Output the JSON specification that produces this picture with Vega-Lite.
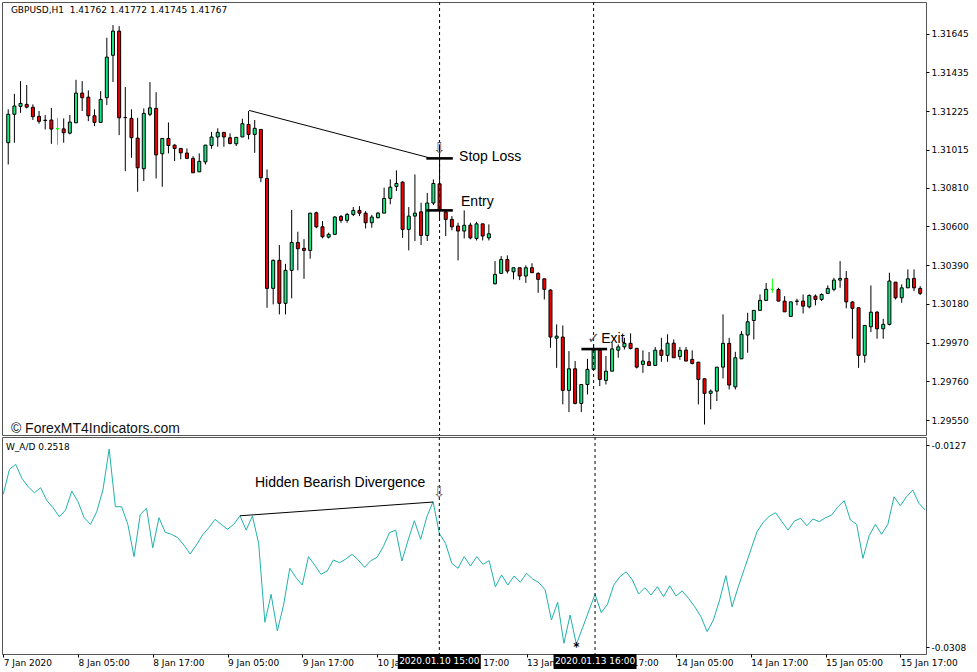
{
  "$schema": "https://vega.github.io/schema/vega-lite/v6.json",
  "background": "#ffffff",
  "padding": {"left": 1, "top": 1, "right": 0, "bottom": 0},
  "spacing": 2,
  "bounds": "flush",
  "config": {
    "view": {"stroke": "#555555", "strokeWidth": 1},
    "axis": {"labelFont": "DejaVu Sans", "labelFontSize": 9, "labelColor": "#000000", "tickColor": "#000000", "domain": false, "grid": false, "tickSize": 3, "labelPadding": 2, "title": null}
  },
  "datasets": {
    "bars": [
      {"i":0,"o":1.31054,"h":1.31235,"l":1.30936,"c":1.31208,"w":-0.01711},
      {"i":1,"o":1.31208,"h":1.31319,"l":1.31054,"c":1.31253,"w":-0.01487},
      {"i":2,"o":1.31251,"h":1.31388,"l":1.31216,"c":1.31267,"w":-0.01443},
      {"i":3,"o":1.31262,"h":1.31367,"l":1.3124,"c":1.31247,"w":-0.01568},
      {"i":4,"o":1.31246,"h":1.31262,"l":1.31177,"c":1.31195,"w":-0.01643},
      {"i":5,"o":1.31197,"h":1.31226,"l":1.31157,"c":1.3117,"w":-0.01697},
      {"i":6,"o":1.31176,"h":1.31204,"l":1.31126,"c":1.31174,"w":-0.01652},
      {"i":7,"o":1.31177,"h":1.31243,"l":1.31048,"c":1.31128,"w":-0.01768},
      {"i":8,"o":1.3113,"h":1.31189,"l":1.31043,"c":1.3113,"w":-0.01831},
      {"i":9,"o":1.31129,"h":1.31186,"l":1.31054,"c":1.31108,"w":-0.01912},
      {"i":10,"o":1.31106,"h":1.31204,"l":1.31099,"c":1.31166,"w":-0.01852},
      {"i":11,"o":1.31162,"h":1.31395,"l":1.31162,"c":1.31323,"w":-0.01682},
      {"i":12,"o":1.31323,"h":1.31388,"l":1.31226,"c":1.31298,"w":-0.01777},
      {"i":13,"o":1.31301,"h":1.31338,"l":1.31171,"c":1.312,"w":-0.0192},
      {"i":14,"o":1.312,"h":1.31235,"l":1.31144,"c":1.31164,"w":-0.0198},
      {"i":15,"o":1.31164,"h":1.31334,"l":1.31164,"c":1.31289,"w":-0.01867},
      {"i":16,"o":1.31298,"h":1.31623,"l":1.31258,"c":1.31518,"w":-0.01673},
      {"i":17,"o":1.31528,"h":1.31692,"l":1.31383,"c":1.31659,"w":-0.01306},
      {"i":18,"o":1.31659,"h":1.31686,"l":1.31095,"c":1.31189,"w":-0.01822},
      {"i":19,"o":1.31191,"h":1.31356,"l":1.309,"c":1.3119,"w":-0.01822},
      {"i":20,"o":1.31186,"h":1.31235,"l":1.30972,"c":1.31081,"w":-0.0198},
      {"i":21,"o":1.31079,"h":1.31189,"l":1.30788,"c":1.30918,"w":-0.02269},
      {"i":22,"o":1.30913,"h":1.3124,"l":1.30846,"c":1.31213,"w":-0.0189},
      {"i":23,"o":1.31208,"h":1.31383,"l":1.31198,"c":1.31243,"w":-0.01836},
      {"i":24,"o":1.3124,"h":1.31328,"l":1.3086,"c":1.30988,"w":-0.02189},
      {"i":25,"o":1.30994,"h":1.31077,"l":1.30815,"c":1.31077,"w":-0.0192},
      {"i":26,"o":1.31077,"h":1.31164,"l":1.30996,"c":1.31039,"w":-0.02051},
      {"i":27,"o":1.31041,"h":1.31045,"l":1.30954,"c":1.31023,"w":-0.02069},
      {"i":28,"o":1.31023,"h":1.31023,"l":1.30964,"c":1.30999,"w":-0.02099},
      {"i":29,"o":1.30998,"h":1.31023,"l":1.30965,"c":1.30969,"w":-0.02165},
      {"i":30,"o":1.30969,"h":1.30981,"l":1.30891,"c":1.30891,"w":-0.02245},
      {"i":31,"o":1.30896,"h":1.30996,"l":1.30896,"c":1.30953,"w":-0.02165},
      {"i":32,"o":1.3095,"h":1.31041,"l":1.30936,"c":1.31041,"w":-0.02075},
      {"i":33,"o":1.31039,"h":1.31113,"l":1.31021,"c":1.31085,"w":-0.0201},
      {"i":34,"o":1.31085,"h":1.31132,"l":1.31032,"c":1.3111,"w":-0.01935},
      {"i":35,"o":1.3111,"h":1.3111,"l":1.31032,"c":1.31085,"w":-0.0198},
      {"i":36,"o":1.31081,"h":1.31105,"l":1.31045,"c":1.3105,"w":-0.02024},
      {"i":37,"o":1.31048,"h":1.31083,"l":1.31036,"c":1.31083,"w":-0.0198},
      {"i":38,"o":1.31085,"h":1.31184,"l":1.31085,"c":1.31157,"w":-0.01903},
      {"i":39,"o":1.31153,"h":1.31226,"l":1.31072,"c":1.31099,"w":-0.02031},
      {"i":40,"o":1.31099,"h":1.31177,"l":1.30999,"c":1.31132,"w":-0.01905},
      {"i":41,"o":1.31126,"h":1.31126,"l":1.3084,"c":1.30864,"w":-0.0215},
      {"i":42,"o":1.3086,"h":1.30909,"l":1.30159,"c":1.30264,"w":-0.02856},
      {"i":43,"o":1.30264,"h":1.30421,"l":1.30177,"c":1.30416,"w":-0.02606},
      {"i":44,"o":1.30416,"h":1.30499,"l":1.30123,"c":1.30183,"w":-0.02934},
      {"i":45,"o":1.30183,"h":1.30397,"l":1.30123,"c":1.30362,"w":-0.02702},
      {"i":46,"o":1.30362,"h":1.30689,"l":1.3021,"c":1.30513,"w":-0.02373},
      {"i":47,"o":1.30513,"h":1.30571,"l":1.30362,"c":1.30479,"w":-0.02457},
      {"i":48,"o":1.30481,"h":1.30531,"l":1.30316,"c":1.3047,"w":-0.02523},
      {"i":49,"o":1.3047,"h":1.30672,"l":1.30425,"c":1.30672,"w":-0.02269},
      {"i":50,"o":1.30674,"h":1.3068,"l":1.3059,"c":1.30598,"w":-0.02344},
      {"i":51,"o":1.30598,"h":1.30629,"l":1.30535,"c":1.30544,"w":-0.02427},
      {"i":52,"o":1.30542,"h":1.30566,"l":1.30535,"c":1.30557,"w":-0.02397},
      {"i":53,"o":1.30557,"h":1.30656,"l":1.30557,"c":1.30651,"w":-0.02299},
      {"i":54,"o":1.30654,"h":1.30662,"l":1.3062,"c":1.30633,"w":-0.02323},
      {"i":55,"o":1.30633,"h":1.30674,"l":1.3062,"c":1.30665,"w":-0.0229},
      {"i":56,"o":1.30665,"h":1.30705,"l":1.30656,"c":1.30687,"w":-0.02248},
      {"i":57,"o":1.30687,"h":1.3071,"l":1.30656,"c":1.30672,"w":-0.02299},
      {"i":58,"o":1.30672,"h":1.30683,"l":1.30589,"c":1.3062,"w":-0.02364},
      {"i":59,"o":1.3062,"h":1.30662,"l":1.30593,"c":1.30651,"w":-0.02305},
      {"i":60,"o":1.30647,"h":1.30678,"l":1.30644,"c":1.30672,"w":-0.02275},
      {"i":61,"o":1.30672,"h":1.3081,"l":1.30672,"c":1.30752,"w":-0.0218},
      {"i":62,"o":1.30752,"h":1.30855,"l":1.3072,"c":1.30813,"w":-0.02055},
      {"i":63,"o":1.30817,"h":1.30904,"l":1.30792,"c":1.30833,"w":-0.02031},
      {"i":64,"o":1.3084,"h":1.30845,"l":1.30538,"c":1.30584,"w":-0.02308},
      {"i":65,"o":1.30584,"h":1.30705,"l":1.3047,"c":1.30656,"w":-0.0212},
      {"i":66,"o":1.30656,"h":1.30882,"l":1.30521,"c":1.30672,"w":-0.01947},
      {"i":67,"o":1.30679,"h":1.30728,"l":1.30499,"c":1.30551,"w":-0.02114},
      {"i":68,"o":1.30551,"h":1.30782,"l":1.30521,"c":1.30727,"w":-0.01912},
      {"i":69,"o":1.30727,"h":1.30855,"l":1.30716,"c":1.30833,"w":-0.01777},
      {"i":70,"o":1.30831,"h":1.31045,"l":1.30638,"c":1.30687,"w":-0.0206},
      {"i":71,"o":1.30679,"h":1.30687,"l":1.30548,"c":1.30638,"w":-0.0215},
      {"i":72,"o":1.30638,"h":1.30656,"l":1.30579,"c":1.30598,"w":-0.02328},
      {"i":73,"o":1.30602,"h":1.3062,"l":1.30416,"c":1.30575,"w":-0.02373},
      {"i":74,"o":1.30575,"h":1.30687,"l":1.30535,"c":1.30606,"w":-0.02269},
      {"i":75,"o":1.30607,"h":1.3062,"l":1.3053,"c":1.30538,"w":-0.02353},
      {"i":76,"o":1.30535,"h":1.30625,"l":1.30524,"c":1.30614,"w":-0.02269},
      {"i":77,"o":1.30614,"h":1.30614,"l":1.30524,"c":1.30548,"w":-0.02337},
      {"i":78,"o":1.30538,"h":1.30611,"l":1.30524,"c":1.3056,"w":-0.02305},
      {"i":79,"o":1.30289,"h":1.30412,"l":1.30286,"c":1.3034,"w":-0.02538},
      {"i":80,"o":1.30345,"h":1.30439,"l":1.30345,"c":1.30421,"w":-0.02433},
      {"i":81,"o":1.30421,"h":1.30443,"l":1.30345,"c":1.30358,"w":-0.02523},
      {"i":82,"o":1.30354,"h":1.30376,"l":1.30313,"c":1.30376,"w":-0.02442},
      {"i":83,"o":1.30376,"h":1.30376,"l":1.30309,"c":1.30331,"w":-0.02498},
      {"i":84,"o":1.30331,"h":1.30389,"l":1.30294,"c":1.30376,"w":-0.02418},
      {"i":85,"o":1.30376,"h":1.304,"l":1.30349,"c":1.30349,"w":-0.02469},
      {"i":86,"o":1.30345,"h":1.30352,"l":1.3024,"c":1.30313,"w":-0.02502},
      {"i":87,"o":1.30316,"h":1.30316,"l":1.30204,"c":1.30259,"w":-0.02567},
      {"i":88,"o":1.30255,"h":1.30259,"l":1.29942,"c":1.3,"w":-0.02836},
      {"i":89,"o":1.29994,"h":1.30069,"l":1.29833,"c":1.30005,"w":-0.02677},
      {"i":90,"o":1.3,"h":1.30063,"l":1.29635,"c":1.29711,"w":-0.03044},
      {"i":91,"o":1.29711,"h":1.29924,"l":1.29593,"c":1.29828,"w":-0.02791},
      {"i":92,"o":1.29828,"h":1.2987,"l":1.29635,"c":1.2964,"w":-0.03053},
      {"i":93,"o":1.2964,"h":1.29743,"l":1.29593,"c":1.29743,"w":-0.02905},
      {"i":94,"o":1.29743,"h":1.29882,"l":1.29689,"c":1.29825,"w":-0.02755},
      {"i":95,"o":1.29825,"h":1.2996,"l":1.29825,"c":1.29929,"w":-0.02606},
      {"i":96,"o":1.29929,"h":1.29929,"l":1.29734,"c":1.2977,"w":-0.0277},
      {"i":97,"o":1.29765,"h":1.29897,"l":1.29743,"c":1.29815,"w":-0.02695},
      {"i":98,"o":1.29815,"h":1.29969,"l":1.29815,"c":1.29936,"w":-0.02523},
      {"i":99,"o":1.29929,"h":1.2996,"l":1.29888,"c":1.29947,"w":-0.02448},
      {"i":100,"o":1.29947,"h":1.29996,"l":1.29933,"c":1.29966,"w":-0.02404},
      {"i":101,"o":1.29966,"h":1.3002,"l":1.29933,"c":1.29938,"w":-0.02478},
      {"i":102,"o":1.29939,"h":1.29939,"l":1.2983,"c":1.29837,"w":-0.02603},
      {"i":103,"o":1.29852,"h":1.29928,"l":1.29806,"c":1.2987,"w":-0.02547},
      {"i":104,"o":1.29866,"h":1.29919,"l":1.29846,"c":1.29846,"w":-0.02612},
      {"i":105,"o":1.29846,"h":1.29946,"l":1.29846,"c":1.29929,"w":-0.02538},
      {"i":106,"o":1.29929,"h":1.29996,"l":1.29866,"c":1.29901,"w":-0.02627},
      {"i":107,"o":1.29901,"h":1.30015,"l":1.29866,"c":1.29967,"w":-0.02529},
      {"i":108,"o":1.29967,"h":1.29987,"l":1.29888,"c":1.29888,"w":-0.02621},
      {"i":109,"o":1.29895,"h":1.29946,"l":1.29877,"c":1.29928,"w":-0.02576},
      {"i":110,"o":1.29929,"h":1.29946,"l":1.2987,"c":1.2987,"w":-0.02642},
      {"i":111,"o":1.29879,"h":1.29928,"l":1.29852,"c":1.29857,"w":-0.02717},
      {"i":112,"o":1.29864,"h":1.29864,"l":1.29635,"c":1.2977,"w":-0.02806},
      {"i":113,"o":1.29774,"h":1.29774,"l":1.29526,"c":1.29695,"w":-0.0294},
      {"i":114,"o":1.29695,"h":1.29716,"l":1.29608,"c":1.29707,"w":-0.02836},
      {"i":115,"o":1.29707,"h":1.29837,"l":1.29653,"c":1.29837,"w":-0.02657},
      {"i":116,"o":1.29837,"h":1.30123,"l":1.29776,"c":1.29966,"w":-0.02439},
      {"i":117,"o":1.29966,"h":1.29996,"l":1.29716,"c":1.2974,"w":-0.02717},
      {"i":118,"o":1.2973,"h":1.2992,"l":1.29716,"c":1.29888,"w":-0.02538},
      {"i":119,"o":1.29882,"h":1.30032,"l":1.29882,"c":1.30015,"w":-0.02373},
      {"i":120,"o":1.30011,"h":1.30132,"l":1.29915,"c":1.30083,"w":-0.02209},
      {"i":121,"o":1.3009,"h":1.30145,"l":1.29987,"c":1.30145,"w":-0.02046},
      {"i":122,"o":1.30145,"h":1.30231,"l":1.30145,"c":1.30199,"w":-0.01962},
      {"i":123,"o":1.30199,"h":1.30293,"l":1.30195,"c":1.30259,"w":-0.01905},
      {"i":124,"o":1.30259,"h":1.30316,"l":1.3024,"c":1.30259,"w":-0.01876},
      {"i":125,"o":1.30258,"h":1.30267,"l":1.30195,"c":1.30195,"w":-0.01956},
      {"i":126,"o":1.30195,"h":1.30222,"l":1.30137,"c":1.30137,"w":-0.02031},
      {"i":127,"o":1.30112,"h":1.30191,"l":1.30112,"c":1.30191,"w":-0.0195},
      {"i":128,"o":1.30195,"h":1.30208,"l":1.30172,"c":1.30194,"w":-0.01926},
      {"i":129,"o":1.30195,"h":1.30231,"l":1.30128,"c":1.30168,"w":-0.01992},
      {"i":130,"o":1.30164,"h":1.30231,"l":1.30156,"c":1.30226,"w":-0.01932},
      {"i":131,"o":1.30222,"h":1.30231,"l":1.30172,"c":1.30204,"w":-0.01956},
      {"i":132,"o":1.30204,"h":1.30237,"l":1.30195,"c":1.30231,"w":-0.0192},
      {"i":133,"o":1.30237,"h":1.3028,"l":1.30237,"c":1.30264,"w":-0.01896},
      {"i":134,"o":1.30259,"h":1.30321,"l":1.30249,"c":1.30309,"w":-0.01822},
      {"i":135,"o":1.30309,"h":1.30412,"l":1.30267,"c":1.30318,"w":-0.01768},
      {"i":136,"o":1.30318,"h":1.30358,"l":1.30156,"c":1.30191,"w":-0.01941},
      {"i":137,"o":1.3019,"h":1.30195,"l":1.29991,"c":1.30156,"w":-0.0198},
      {"i":138,"o":1.30159,"h":1.30159,"l":1.29833,"c":1.29901,"w":-0.02284},
      {"i":139,"o":1.29901,"h":1.30063,"l":1.29861,"c":1.30063,"w":-0.02082},
      {"i":140,"o":1.30056,"h":1.3028,"l":1.30027,"c":1.30135,"w":-0.0198},
      {"i":141,"o":1.30135,"h":1.30141,"l":1.29991,"c":1.30045,"w":-0.02069},
      {"i":142,"o":1.30045,"h":1.30099,"l":1.29991,"c":1.30069,"w":-0.0198},
      {"i":143,"o":1.30069,"h":1.30349,"l":1.30063,"c":1.30304,"w":-0.01733},
      {"i":144,"o":1.30298,"h":1.30298,"l":1.30204,"c":1.30213,"w":-0.01813},
      {"i":145,"o":1.30213,"h":1.30286,"l":1.30186,"c":1.30267,"w":-0.01733},
      {"i":146,"o":1.30267,"h":1.30367,"l":1.30267,"c":1.30316,"w":-0.01673},
      {"i":147,"o":1.30318,"h":1.30367,"l":1.30249,"c":1.30267,"w":-0.01792},
      {"i":148,"o":1.30264,"h":1.30276,"l":1.30228,"c":1.30237,"w":-0.01852}
    ],
    "vlines": [{"i": 70}, {"i": 95}],
    "trend": [{"i": 39.1, "p": 1.31229}, {"i": 68.35, "p": 1.30972}],
    "levels": [
      {"i": 67.86, "i2": 72.15, "p": 1.30969},
      {"i": 67.86, "i2": 72.15, "p": 1.30687},
      {"i": 93.02, "i2": 97.19, "p": 1.29935}
    ],
    "notes": [
      {"i": 73.16, "p": 1.30976, "t": "Stop Loss"},
      {"i": 73.48, "p": 1.30732, "t": "Entry"},
      {"i": 96.23, "p": 1.29989, "t": "Exit"}
    ],
    "marks": [
      {"i": 70, "p": 1.31025, "s": "⇩"},
      {"i": 95, "p": 1.29995, "s": "✓"}
    ],
    "header": [{"i": 0.43, "p": 1.31773, "t": "GBPUSD,H1\u00a0 1.41762 1.41772 1.41745 1.41767"}],
    "brand": [{"i": 0.43, "p": 1.29501, "t": "© ForexMT4Indicators.com"}],
    "div": [{"i": 38, "w": -0.01903}, {"i": 69, "w": -0.0178}],
    "wlabel": [{"i": 0.43, "w": -0.01288, "t": "W_A/D 0.2518"}],
    "wnote": [{"i": 40.41, "w": -0.0161, "t": "Hidden Bearish Divergence"}],
    "warrow": [{"i": 70, "w": -0.01691, "s": "⇩"}],
    "wstar": [{"i": 92, "w": -0.03054, "s": "*"}],
    "dates": [
      {"i": 70, "a": 63.34, "b": 76.66, "t": "2020.01.10 15:00"},
      {"i": 95, "a": 88.34, "b": 101.66, "t": "2020.01.13 16:00"}
    ]
  },
  "vconcat": [
    {
      "width": 924,
      "height": 433,
      "layer": [
        {
          "data": {"name": "bars"},
          "mark": {"type": "rule", "strokeWidth": 1, "clip": true},
          "encoding": {
            "x": {"field": "i", "type": "quantitative", "scale": {"domain": [-0.2, 148.13], "nice": false, "zero": false}, "axis": null},
            "y": {"field": "l", "type": "quantitative", "scale": {"domain": [1.29469, 1.31817], "nice": false, "zero": false},
                  "axis": {"orient": "right", "title": null, "values": [1.31645, 1.31435, 1.31225, 1.31015, 1.3081, 1.306, 1.3039, 1.3018, 1.2997, 1.2976, 1.2955], "format": ".5f"}},
            "y2": {"field": "h"},
            "color": {"condition": {"test": "datum.o == datum.c", "value": "#00ff00"}, "value": "#000000"}
          }
        },
        {
          "data": {"name": "bars"},
          "mark": {"type": "bar", "orient": "vertical", "width": 3, "strokeWidth": 1, "clip": true},
          "encoding": {
            "x": {"field": "i", "type": "quantitative", "scale": {"domain": [-0.2, 148.13], "nice": false, "zero": false}, "axis": null},
            "y": {"field": "o", "type": "quantitative", "scale": {"domain": [1.29469, 1.31817], "nice": false, "zero": false}},
            "y2": {"field": "c"},
            "fill": {"condition": {"test": "datum.c > datum.o", "value": "#14e682"}, "value": "#f20000"},
            "stroke": {"condition": {"test": "datum.o == datum.c", "value": "#00ff00"}, "value": "#000000"}
          }
        },
        {
          "data": {"name": "trend"},
          "mark": {"type": "line", "color": "#000000", "strokeWidth": 1},
          "encoding": {
            "x": {"field": "i", "type": "quantitative", "scale": {"domain": [-0.2, 148.13], "nice": false, "zero": false}, "axis": null},
            "y": {"field": "p", "type": "quantitative", "scale": {"domain": [1.29469, 1.31817], "nice": false, "zero": false}}
          }
        },
        {
          "data": {"name": "levels"},
          "mark": {"type": "rule", "color": "#000000", "strokeWidth": 2.6},
          "encoding": {
            "x": {"field": "i", "type": "quantitative", "scale": {"domain": [-0.2, 148.13], "nice": false, "zero": false}, "axis": null},
            "x2": {"field": "i2"},
            "y": {"field": "p", "type": "quantitative", "scale": {"domain": [1.29469, 1.31817], "nice": false, "zero": false}}
          }
        },
        {
          "data": {"name": "vlines"},
          "mark": {"type": "rule", "color": "#000000", "strokeWidth": 1, "strokeDash": [3, 3]},
          "encoding": {
            "x": {"field": "i", "type": "quantitative", "scale": {"domain": [-0.2, 148.13], "nice": false, "zero": false}, "axis": null}
          }
        },
        {
          "data": {"name": "notes"},
          "mark": {"type": "text", "align": "left", "baseline": "middle", "font": "Liberation Sans", "fontSize": 14, "color": "#000000"},
          "encoding": {
            "x": {"field": "i", "type": "quantitative", "scale": {"domain": [-0.2, 148.13], "nice": false, "zero": false}, "axis": null},
            "y": {"field": "p", "type": "quantitative", "scale": {"domain": [1.29469, 1.31817], "nice": false, "zero": false}},
            "text": {"field": "t"}
          }
        },
        {
          "data": {"name": "marks"},
          "mark": {"type": "text", "align": "center", "baseline": "middle", "font": "DejaVu Sans", "fontSize": 15, "color": "#555555"},
          "encoding": {
            "x": {"field": "i", "type": "quantitative", "scale": {"domain": [-0.2, 148.13], "nice": false, "zero": false}, "axis": null},
            "y": {"field": "p", "type": "quantitative", "scale": {"domain": [1.29469, 1.31817], "nice": false, "zero": false}},
            "text": {"field": "s"}
          }
        },
        {
          "data": {"name": "header"},
          "mark": {"type": "text", "align": "left", "baseline": "middle", "font": "DejaVu Sans", "fontSize": 9, "color": "#000000"},
          "encoding": {
            "x": {"field": "i", "type": "quantitative", "scale": {"domain": [-0.2, 148.13], "nice": false, "zero": false}, "axis": null},
            "y": {"field": "p", "type": "quantitative", "scale": {"domain": [1.29469, 1.31817], "nice": false, "zero": false}},
            "text": {"field": "t"}
          }
        },
        {
          "data": {"name": "brand"},
          "mark": {"type": "text", "align": "left", "baseline": "middle", "font": "Liberation Sans", "fontSize": 14, "color": "#111111"},
          "encoding": {
            "x": {"field": "i", "type": "quantitative", "scale": {"domain": [-0.2, 148.13], "nice": false, "zero": false}, "axis": null},
            "y": {"field": "p", "type": "quantitative", "scale": {"domain": [1.29469, 1.31817], "nice": false, "zero": false}},
            "text": {"field": "t"}
          }
        }
      ]
    },
    {
      "width": 924,
      "height": 217,
      "layer": [
        {
          "data": {"name": "bars"},
          "mark": {"type": "line", "color": "#20b2aa", "strokeWidth": 1, "clip": true},
          "encoding": {
            "x": {"field": "i", "type": "quantitative", "scale": {"domain": [-0.2, 148.13], "nice": false, "zero": false},
                  "axis": {"title": null, "values": [0, 12, 24, 36, 48, 60, 72, 84, 96, 108, 120, 132, 144], "labelAlign": "left", "labelFlush": false, "labelOverlap": false, "labelPadding": 1,
                           "labelExpr": "['7 Jan 2020','8 Jan 05:00','8 Jan 17:00','9 Jan 05:00','9 Jan 17:00','10 Jan 05:00','10 Jan 17:00','13 Jan 05:00','13 Jan 17:00','14 Jan 05:00','14 Jan 17:00','15 Jan 05:00','15 Jan 17:00'][round(datum.value / 12)]"}},
            "y": {"field": "w", "type": "quantitative", "scale": {"domain": [-0.0314, -0.01198], "nice": false, "zero": false},
                  "axis": {"orient": "right", "title": null, "values": [-0.0127, -0.0308], "labelExpr": "replace(format(datum.value, '.4f'), '−', '-')"}}
          }
        },
        {
          "data": {"name": "div"},
          "mark": {"type": "line", "color": "#000000", "strokeWidth": 1},
          "encoding": {
            "x": {"field": "i", "type": "quantitative", "scale": {"domain": [-0.2, 148.13], "nice": false, "zero": false}},
            "y": {"field": "w", "type": "quantitative", "scale": {"domain": [-0.0314, -0.01198], "nice": false, "zero": false}}
          }
        },
        {
          "data": {"name": "vlines"},
          "mark": {"type": "rule", "color": "#000000", "strokeWidth": 1, "strokeDash": [3, 3]},
          "encoding": {
            "x": {"field": "i", "type": "quantitative", "scale": {"domain": [-0.2, 148.13], "nice": false, "zero": false}}
          }
        },
        {
          "data": {"name": "wlabel"},
          "mark": {"type": "text", "align": "left", "baseline": "middle", "font": "DejaVu Sans", "fontSize": 9, "color": "#000000"},
          "encoding": {
            "x": {"field": "i", "type": "quantitative", "scale": {"domain": [-0.2, 148.13], "nice": false, "zero": false}},
            "y": {"field": "w", "type": "quantitative", "scale": {"domain": [-0.0314, -0.01198], "nice": false, "zero": false}},
            "text": {"field": "t"}
          }
        },
        {
          "data": {"name": "wnote"},
          "mark": {"type": "text", "align": "left", "baseline": "middle", "font": "Liberation Sans", "fontSize": 14, "color": "#000000"},
          "encoding": {
            "x": {"field": "i", "type": "quantitative", "scale": {"domain": [-0.2, 148.13], "nice": false, "zero": false}},
            "y": {"field": "w", "type": "quantitative", "scale": {"domain": [-0.0314, -0.01198], "nice": false, "zero": false}},
            "text": {"field": "t"}
          }
        },
        {
          "data": {"name": "warrow"},
          "mark": {"type": "text", "align": "center", "baseline": "middle", "font": "DejaVu Sans", "fontSize": 15, "color": "#7a6a5a"},
          "encoding": {
            "x": {"field": "i", "type": "quantitative", "scale": {"domain": [-0.2, 148.13], "nice": false, "zero": false}},
            "y": {"field": "w", "type": "quantitative", "scale": {"domain": [-0.0314, -0.01198], "nice": false, "zero": false}},
            "text": {"field": "s"}
          }
        },
        {
          "data": {"name": "wstar"},
          "mark": {"type": "text", "align": "center", "baseline": "middle", "font": "DejaVu Sans", "fontSize": 12, "fontWeight": "bold", "color": "#000000", "dy": 3},
          "encoding": {
            "x": {"field": "i", "type": "quantitative", "scale": {"domain": [-0.2, 148.13], "nice": false, "zero": false}},
            "y": {"field": "w", "type": "quantitative", "scale": {"domain": [-0.0314, -0.01198], "nice": false, "zero": false}},
            "text": {"field": "s"}
          }
        },
        {
          "data": {"name": "dates"},
          "mark": {"type": "rect", "color": "#000000"},
          "encoding": {
            "x": {"field": "a", "type": "quantitative", "scale": {"domain": [-0.2, 148.13], "nice": false, "zero": false}},
            "x2": {"field": "b"},
            "y": {"datum": -0.0314, "type": "quantitative", "scale": {"domain": [-0.0314, -0.01198], "nice": false, "zero": false}},
            "y2": {"datum": -0.03274}
          }
        },
        {
          "data": {"name": "dates"},
          "mark": {"type": "text", "align": "center", "baseline": "middle", "font": "DejaVu Sans", "fontSize": 9, "color": "#ffffff"},
          "encoding": {
            "x": {"field": "i", "type": "quantitative", "scale": {"domain": [-0.2, 148.13], "nice": false, "zero": false}},
            "y": {"datum": -0.03207, "type": "quantitative", "scale": {"domain": [-0.0314, -0.01198], "nice": false, "zero": false}},
            "text": {"field": "t"}
          }
        }
      ]
    }
  ]
}
